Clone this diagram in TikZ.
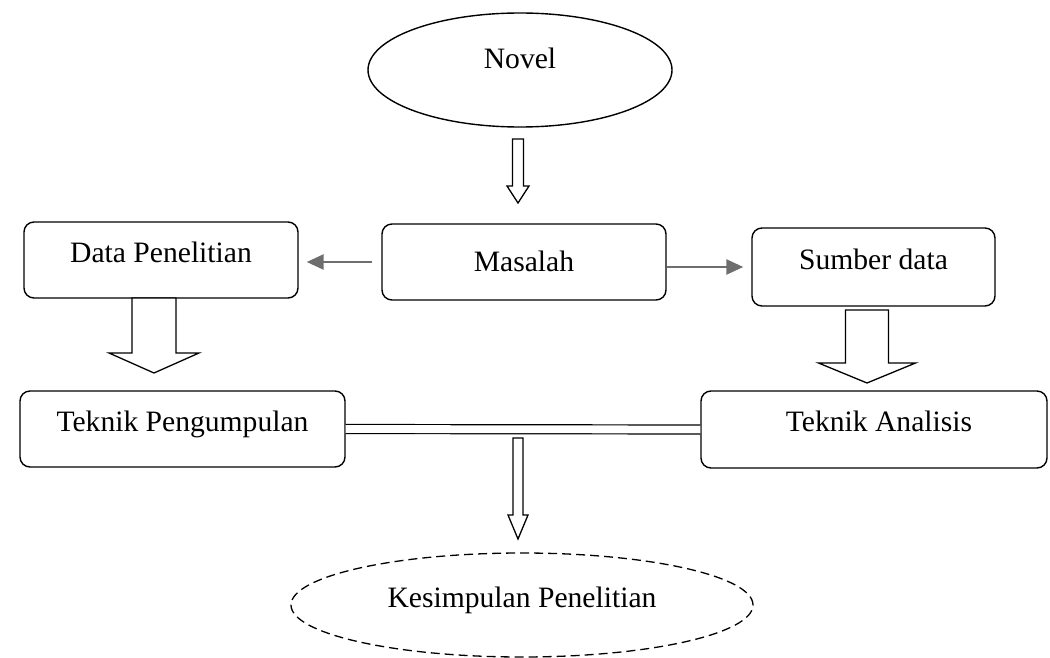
\documentclass[tikz,border=0pt]{standalone}
\usepackage{fontspec}
\setmainfont{Liberation Serif}
\usetikzlibrary{shapes.geometric,arrows.meta,calc}
\newcommand\harr[6]{% cx, ytop, yneck, ytip, halfshaft, halfhead
  \draw[harrow] (#1-#5,#2) -- (#1+#5,#2) -- (#1+#5,#3) -- (#1+#6,#3) -- (#1,#4) -- (#1-#6,#3) -- (#1-#5,#3) -- cycle;}
\begin{document}
\begin{tikzpicture}[x=1pt,y=-1pt,
  txt/.style={font=\fontsize{29.6}{35}\selectfont, text height=14pt, text depth=10pt, inner sep=0pt},
  box/.style={txt, draw, line width=1.4pt, rounded corners=10pt},
  oval/.style={txt, draw, ellipse, line width=1.4pt},
  harrow/.style={draw, fill=white, line width=1.3pt, line join=miter},
  garrow/.style={draw=black!57, line width=2.6pt, -{Triangle[length=17pt,width=15pt]}},
  dline/.style={double, double distance=7.8pt, line width=1.2pt}
]
\useasboundingbox (0,0) rectangle (1050,658);

\node[oval, text height=10pt, text depth=12pt, minimum width=304pt, minimum height=114pt] (nv) at (520,70) {Novel};
\node[box, text height=20pt, text depth=2pt, minimum width=284pt, minimum height=76pt] (ma) at (524,262) {Masalah};
\node[box, minimum width=274pt, minimum height=76pt] (dp) at (161,260) {Data Penelitian};
\node[box, minimum width=243pt, minimum height=78pt] (sd) at (873.5,267) {Sumber data};
\node[box, minimum width=325pt, minimum height=76pt] (tp) at (182.5,429) {Teknik Pengumpulan};
\node[box, minimum width=346pt, minimum height=77pt] (ta) at (874,429.5) {\hspace*{10pt}Teknik Analisis};
\node[oval, dashed, dash pattern=on 9pt off 5pt, line width=1.3pt, minimum width=462pt, minimum height=104pt] (ks) at (522,605) {Kesimpulan Penelitian};

% hollow block arrows
\harr{518}{139}{186}{203}{5.5}{11}
\harr{154}{298}{353}{373}{22}{45}
\harr{867}{310}{363}{383}{21.5}{48.5}
\harr{518}{438}{515}{539}{5}{10}

% gray arrows
\draw[garrow] ([xshift=-9pt]ma.west) -- ([xshift=8pt]dp.east |- ma.west);
\draw[garrow] (ma.east |- sd.west) -- ([xshift=-8pt]sd.west);

% double line
\draw[dline] (tp.east) -- (ta.west);
\end{tikzpicture}
\end{document}
